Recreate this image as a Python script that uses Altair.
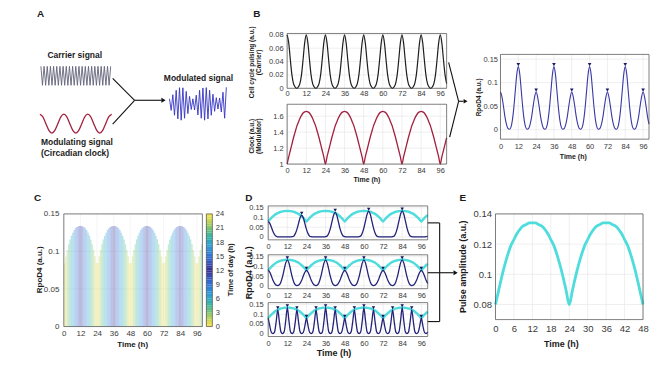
import altair as alt
import pandas as pd

FONT = "Liberation Sans"
W, H = 644, 355
INK = "#1a1a1a"
TICKC = "#3a3a3a"

# ---------------- data ----------------
hours = list(range(101))

carrier_b = [
    0.080, 0.068, 0.043, 0.020, 0.007, 0.002, 0.000, 0.002, 0.007, 0.020, 0.043, 0.068,
    0.080, 0.068, 0.043, 0.020, 0.007, 0.002, 0.000, 0.002, 0.007, 0.020, 0.043, 0.068,
    0.080, 0.068, 0.043, 0.020, 0.007, 0.002, 0.000, 0.002, 0.007, 0.020, 0.043, 0.068,
    0.080, 0.068, 0.043, 0.020, 0.007, 0.002, 0.000, 0.002, 0.007, 0.020, 0.043, 0.068,
    0.080, 0.068, 0.043, 0.020, 0.007, 0.002, 0.000, 0.002, 0.007, 0.020, 0.043, 0.068,
    0.080, 0.068, 0.043, 0.020, 0.007, 0.002, 0.000, 0.002, 0.007, 0.020, 0.043, 0.068,
    0.080, 0.068, 0.043, 0.020, 0.007, 0.002, 0.000, 0.002, 0.007, 0.020, 0.043, 0.068,
    0.080, 0.068, 0.043, 0.020, 0.007, 0.002, 0.000, 0.002, 0.007, 0.020, 0.043, 0.068,
    0.080, 0.068, 0.043, 0.020, 0.007,
]

clock_b = [
    1.00, 1.09, 1.17, 1.25, 1.33, 1.40, 1.47, 1.52, 1.57, 1.61, 1.64, 1.655, 1.66,
    1.655, 1.64, 1.61, 1.57, 1.52, 1.47, 1.40, 1.33, 1.25, 1.17, 1.09, 1.00,
    1.09, 1.17, 1.25, 1.33, 1.40, 1.47, 1.52, 1.57, 1.61, 1.64, 1.655, 1.66,
    1.655, 1.64, 1.61, 1.57, 1.52, 1.47, 1.40, 1.33, 1.25, 1.17, 1.09, 1.00,
    1.09, 1.17, 1.25, 1.33, 1.40, 1.47, 1.52, 1.57, 1.61, 1.64, 1.655, 1.66,
    1.655, 1.64, 1.61, 1.57, 1.52, 1.47, 1.40, 1.33, 1.25, 1.17, 1.09, 1.00,
    1.09, 1.17, 1.25, 1.33, 1.40, 1.47, 1.52, 1.57, 1.61, 1.64, 1.655, 1.66,
    1.655, 1.64, 1.61, 1.57, 1.52, 1.47, 1.40, 1.33, 1.25, 1.17, 1.09, 1.00,
    1.09, 1.17, 1.25, 1.33,
]

rpod4 = [
    0.080, 0.070, 0.050, 0.028, 0.012, 0.003, 0.001, 0.005, 0.020, 0.047, 0.083, 0.118, 0.134,
    0.118, 0.083, 0.047, 0.020, 0.005, 0.001, 0.003, 0.012, 0.028, 0.050, 0.070, 0.080,
    0.070, 0.050, 0.028, 0.012, 0.003, 0.001, 0.005, 0.020, 0.047, 0.083, 0.118, 0.134,
    0.118, 0.083, 0.047, 0.020, 0.005, 0.001, 0.003, 0.012, 0.028, 0.050, 0.070, 0.080,
    0.070, 0.050, 0.028, 0.012, 0.003, 0.001, 0.005, 0.020, 0.047, 0.083, 0.118, 0.134,
    0.118, 0.083, 0.047, 0.020, 0.005, 0.001, 0.003, 0.012, 0.028, 0.050, 0.070, 0.080,
    0.070, 0.050, 0.028, 0.012, 0.003, 0.001, 0.005, 0.020, 0.047, 0.083, 0.118, 0.134,
    0.118, 0.083, 0.047, 0.020, 0.005, 0.001, 0.003, 0.012, 0.028, 0.050, 0.070, 0.080,
    0.070, 0.050, 0.028, 0.012,
]
rpod4_peak_t = [12, 24, 36, 48, 60, 72, 84, 96]
rpod4_peak_v = [0.134, 0.080, 0.134, 0.080, 0.134, 0.080, 0.134, 0.080]

envelope = [
    0.080, 0.089, 0.098, 0.106, 0.113, 0.119, 0.123, 0.127, 0.130, 0.132, 0.133, 0.134, 0.134,
    0.134, 0.133, 0.132, 0.130, 0.127, 0.123, 0.119, 0.113, 0.106, 0.098, 0.089, 0.080,
    0.089, 0.098, 0.106, 0.113, 0.119, 0.123, 0.127, 0.130, 0.132, 0.133, 0.134, 0.134,
    0.134, 0.133, 0.132, 0.130, 0.127, 0.123, 0.119, 0.113, 0.106, 0.098, 0.089, 0.080,
    0.089, 0.098, 0.106, 0.113, 0.119, 0.123, 0.127, 0.130, 0.132, 0.133, 0.134, 0.134,
    0.134, 0.133, 0.132, 0.130, 0.127, 0.123, 0.119, 0.113, 0.106, 0.098, 0.089, 0.080,
    0.089, 0.098, 0.106, 0.113, 0.119, 0.123, 0.127, 0.130, 0.132, 0.133, 0.134, 0.134,
    0.134, 0.133, 0.132, 0.130, 0.127, 0.123, 0.119, 0.113, 0.106, 0.098, 0.089, 0.080,
    0.089, 0.098, 0.106, 0.113,
]

d1_pulse = [
    0.080, 0.070, 0.050, 0.028, 0.012, 0.003, 0.000,
    0, 0, 0, 0, 0, 0, 0, 0,
    0.001, 0.004, 0.017, 0.039, 0.069, 0.099, 0.112, 0.099, 0.069, 0.039, 0.017, 0.004, 0.001,
    0, 0, 0, 0, 0, 0, 0, 0,
    0.001, 0.005, 0.019, 0.044, 0.079, 0.112, 0.127, 0.112, 0.079, 0.044, 0.019, 0.005, 0.001,
    0, 0, 0, 0, 0, 0, 0, 0,
    0.001, 0.005, 0.020, 0.047, 0.082, 0.117, 0.133, 0.117, 0.082, 0.047, 0.020, 0.005, 0.001,
    0, 0, 0, 0, 0, 0, 0, 0,
    0.001, 0.005, 0.020, 0.047, 0.083, 0.118, 0.134, 0.118, 0.083, 0.047, 0.020, 0.005, 0.001,
    0, 0, 0, 0, 0, 0, 0, 0,
    0.001, 0.005,
]
d1_peak_t = [21, 42, 63, 84]
d1_peak_v = [0.112, 0.127, 0.133, 0.134]

d3_pulse = [
    0.080, 0.040, 0.006, 0.000, 0.009, 0.062, 0.123, 0.062, 0.009, 0.000, 0.009, 0.067,
    0.134, 0.067, 0.009, 0.000, 0.009, 0.062, 0.123, 0.062, 0.009, 0.000, 0.006, 0.040,
    0.080, 0.040, 0.006, 0.000, 0.009, 0.062, 0.123, 0.062, 0.009, 0.000, 0.009, 0.067,
    0.134, 0.067, 0.009, 0.000, 0.009, 0.062, 0.123, 0.062, 0.009, 0.000, 0.006, 0.040,
    0.080, 0.040, 0.006, 0.000, 0.009, 0.062, 0.123, 0.062, 0.009, 0.000, 0.009, 0.067,
    0.134, 0.067, 0.009, 0.000, 0.009, 0.062, 0.123, 0.062, 0.009, 0.000, 0.006, 0.040,
    0.080, 0.040, 0.006, 0.000, 0.009, 0.062, 0.123, 0.062, 0.009, 0.000, 0.009, 0.067,
    0.134, 0.067, 0.009, 0.000, 0.009, 0.062, 0.123, 0.062, 0.009, 0.000, 0.006, 0.040,
    0.080, 0.040, 0.006, 0.000, 0.009,
]
d3_peak_t = [6, 12, 18, 24, 30, 36, 42, 48, 54, 60, 66, 72, 78, 84, 90, 96]
d3_peak_v = [0.123, 0.134, 0.123, 0.080, 0.123, 0.134, 0.123, 0.080,
             0.123, 0.134, 0.123, 0.080, 0.123, 0.134, 0.123, 0.080]

# schematic signals of panel A
carrier_a = [1, -1, 1, -1, 1, -1, 1, -1, 1, -1, 1, -1, 1, -1, 1, -1, 1, -1, 1, -1, 1, -1,
             1, -1, 1, -1, 1, -1, 1, -1, 1, -1, 1, -1, 1, -1, 1, -1, 1, -1, 1, -1, 1, -1, 1]
modulating_a = [1, 0.71, 0, -0.71, -1, -0.71, 0, 0.71, 1, 0.71, 0, -0.71, -1, -0.71, 0, 0.71,
                1, 0.71, 0, -0.71, -1, -0.71, 0, 0.71, 1]
modulated_a = [0.30, -0.40, 0.55, -0.70, 0.82, -0.92, 0.98, -1.00, 0.97, -0.88, 0.75, -0.60,
               0.45, -0.35, 0.30, -0.38, 0.52, -0.68, 0.82, -0.88, 0.96, -1.00, 0.98, -0.92,
               0.82, -0.70, 0.58, -0.46, 0.37, -0.32, 0.35, -0.50, 0.70, -0.88, 1.00]

time_ticks = [0, 12, 24, 36, 48, 60, 72, 84, 96]
time_ticks_e = [0, 6, 12, 18, 24, 30, 36, 42, 48]
carrier_ticks = [0, 0.02, 0.04, 0.06, 0.08]
clock_ticks = [1, 1.2, 1.4, 1.6]
rpod_ticks = [0, 0.05, 0.1, 0.15]
amp_ticks = [0.08, 0.1, 0.12, 0.14]
tod_ticks = [0, 3, 6, 9, 12, 15, 18, 21, 24]

tod_stops = [0, 1.5, 3, 5, 7, 9.5, 12, 14.5, 17, 19, 21, 22.5, 24]
tod_colors = ["#f9e24c", "#c8d450", "#7cc46e", "#2db4aa", "#2a9ad8", "#3168d6", "#3a2b8e",
              "#3168d6", "#2a9ad8", "#2db4aa", "#7cc46e", "#c8d450", "#f9e24c"]


# ---------------- helpers ----------------
class Panel:
    def __init__(self, xdom, xpx, ydom, ypx, xticks=None, yticks=None, fs=7.5,
                 xpad=2, ypad=4, yorient="left"):
        self.xdom, self.xpx, self.ydom, self.ypx = xdom, xpx, ydom, ypx
        self.xticks, self.yticks = xticks, yticks
        self.fs, self.xpad, self.ypad, self.yorient = fs, xpad, ypad, yorient
        self.xs = alt.Scale(domain=xdom, range=xpx, nice=False, zero=False)
        self.ys = alt.Scale(domain=ydom, range=ypx, nice=False, zero=False)

    def _axis(self, orient, offset, values, pad):
        return alt.Axis(orient=orient, offset=offset, values=values,
                        labelExpr="toString(datum.value)", title=None,
                        grid=False, ticks=False, domain=False, labelFont=FONT,
                        labelFontSize=self.fs, labelColor=TICKC, labelPadding=pad,
                        labelOverlap=False, labelFlush=False)

    def X(self, f):
        ax = None
        if self.xticks is not None:
            ax = self._axis("bottom", self.ypx[0] - H, self.xticks, self.xpad)
        return alt.X(f, type="quantitative", scale=self.xs, axis=ax)

    def Y(self, f):
        ax = None
        if self.yticks is not None:
            off = -self.xpx[0] if self.yorient == "left" else self.xpx[1] - W
            ax = self._axis(self.yorient, off, self.yticks, self.ypad)
        return alt.Y(f, type="quantitative", scale=self.ys, axis=ax)


def grid(p, color="#e4e4e4"):
    gx = pd.DataFrame({"v": p.xticks, "a": p.ydom[0], "b": p.ydom[1]})
    gy = pd.DataFrame({"v": p.yticks, "a": p.xdom[0], "b": p.xdom[1]})
    return [
        alt.Chart(gx).mark_rule(color=color, strokeWidth=0.6).encode(x=p.X("v"), y=p.Y("a"), y2="b"),
        alt.Chart(gy).mark_rule(color=color, strokeWidth=0.6).encode(y=p.Y("v"), x=p.X("a"), x2="b"),
    ]


def box(p):
    fd = pd.DataFrame({"x0": [p.xdom[0]], "x1": [p.xdom[1]], "y0": [p.ydom[0]], "y1": [p.ydom[1]]})
    return alt.Chart(fd).mark_rect(filled=False, color="#4a4a4a", strokeWidth=0.7).encode(
        x=p.X("x0"), x2="x1", y=p.Y("y0"), y2="y1")


def line(p, xs, ys, color, width, interp="monotone"):
    df = pd.DataFrame({"t": xs, "v": ys})
    return alt.Chart(df).mark_line(color=color, strokeWidth=width, interpolate=interp).encode(
        x=p.X("t"), y=p.Y("v"))


def peaks(p, ts, vs, color, size=13):
    df = pd.DataFrame({"t": ts, "v": vs})
    return alt.Chart(df).mark_point(shape="triangle-down", filled=True, size=size, color=color,
                                    opacity=1, yOffset=-2).encode(x=p.X("t"), y=p.Y("v"))


dummy = pd.DataFrame({"k": [0]})


def text(s, x, y, size, bold=True, angle=0, align="center", baseline="middle", color=INK):
    return alt.Chart(dummy).mark_text(text=s, font=FONT, fontSize=size,
                                      fontWeight="bold" if bold else "normal", angle=angle,
                                      align=align, baseline=baseline, color=color).encode(
        x=alt.value(x), y=alt.value(y))


def seg(x1, y1, x2, y2, w=1.1):
    return alt.Chart(dummy).mark_rule(color="#111111", strokeWidth=w).encode(
        x=alt.value(x1), y=alt.value(y1), x2=alt.value(x2), y2=alt.value(y2))


def head(x, y, size=24):
    return alt.Chart(dummy).mark_point(shape="triangle-right", filled=True, size=size,
                                       color="#111111", opacity=1).encode(x=alt.value(x), y=alt.value(y))


tod_scale = alt.Scale(domain=tod_stops, range=tod_colors, interpolate="rgb")
layers = []

# ---------------- panel A ----------------
pa_car = Panel([0, 44], [33, 103], [-1, 1], [77, 58])
pa_mod = Panel([0, 24], [32, 104], [-1, 1], [125, 106])
pa_out = Panel([0, 34], [162, 219], [-1, 1], [112, 79])
layers += [
    line(pa_car, list(range(len(carrier_a))), carrier_a, "#62627a", 0.9, "linear"),
    line(pa_mod, list(range(len(modulating_a))), modulating_a, "#a3203f", 1.3, "monotone"),
    line(pa_out, list(range(len(modulated_a))), modulated_a, "#3434c4", 0.9, "linear"),
    text("A", 29, 0, 10, baseline="top", align="left"),
    text("Carrier signal", 67, 47, 8.5),
    text("Modulated signal", 191, 70, 8.5),
    text("Modulating signal", 33, 134, 8.5, align="left"),
    text("(Circadian clock)", 33, 145, 8.5, align="left"),
    seg(105, 70, 127, 92), seg(105, 116, 127, 92), seg(127, 92, 154, 92), head(156, 92),
]

# ---------------- panel B ----------------
pbt = Panel([0, 100], [280, 440], [0, 0.082], [80, 25], time_ticks, carrier_ticks, 7.5, 1, 4)
pbb = Panel([0, 100], [280, 440], [1, 1.75], [156, 96], time_ticks, clock_ticks, 7.5, 2, 4)
pbr = Panel([0, 100], [494, 643], [-0.02, 0.16], [131, 46], time_ticks, rpod_ticks, 7.5, 3, 3)
layers += [
    alt.layer(*grid(pbt), line(pbt, hours, carrier_b, "#1e1e1e", 1.2), box(pbt)),
    alt.layer(*grid(pbb), line(pbb, hours, clock_b, "#a3203f", 1.3), box(pbb)),
    alt.layer(*grid(pbr), line(pbr, hours, rpod4, "#3838a6", 1.1),
              peaks(pbr, rpod4_peak_t, rpod4_peak_v, "#1a1a66"), box(pbr)),
    text("B", 246, 0, 10, baseline="top", align="left"),
    text("Cell cycle pulsing (a.u.)", 245, 54, 6.5, angle=270),
    text("(Carrier)", 252, 54, 6.5, angle=270),
    text("Clock (a.u.)", 245, 128, 6.5, angle=270),
    text("(Modulator)", 252, 128, 6.5, angle=270),
    text("Time (h)", 360, 172, 7),
    text("RpoD4 (a.u.)", 472, 89, 6.5, angle=270),
    text("Time (h)", 567, 149, 7),
    seg(442, 54, 452, 93), seg(452, 93, 443, 129), seg(452, 93, 457, 93), head(459, 93, 20),
]

# ---------------- panel C ----------------
pc = Panel([0, 100], [56, 195], [0, 0.15], [319, 206], time_ticks, rpod_ticks, 8, 3, 5)
c_df = pd.DataFrame({
    "t0": hours[:-1],
    "t1": hours[1:],
    "base": 0.0,
    "top": [(envelope[i] + envelope[i + 1]) / 2 for i in range(len(hours) - 1)],
    "tod": [(h + 0.5) % 24 for h in hours[:-1]],
})
c_rects = alt.Chart(c_df).mark_rect(opacity=0.34).encode(
    x=pc.X("t0"), x2="t1", y=pc.Y("base"), y2="top",
    color=alt.Color("tod", type="quantitative", scale=tod_scale, legend=None))
pcb = Panel([0, 1], [199, 205], [0, 24], [319, 206], None, tod_ticks, 7.5, 2, 3, "right")
cb_lv = [i * 0.5 for i in range(48)]
cb_df = pd.DataFrame({"a": cb_lv, "b": [v + 0.5 for v in cb_lv], "m": [v + 0.25 for v in cb_lv],
                      "x0": 0.0, "x1": 1.0})
cb_rects = alt.Chart(cb_df).mark_rect().encode(
    x=pcb.X("x0"), x2="x1", y=pcb.Y("a"), y2="b",
    color=alt.Color("m", type="quantitative", scale=tod_scale, legend=None))
layers += [
    alt.layer(*grid(pc, "#eeeeee"), c_rects, box(pc)),
    alt.layer(cb_rects, box(pcb)),
    text("C", 26, 190, 10, align="left"),
    text("RpoD4 (a.u.)", 32, 262, 8, angle=270),
    text("Time (h)", 125, 337, 8),
    text("Time of day (h)", 224, 262, 7.5, angle=270),
]

# ---------------- panel D ----------------
CYAN = "#4fdcdc"
NAVY = "#23237a"
d_specs = [([232, 198], d1_pulse, d1_peak_t, d1_peak_v),
           ([281, 247], rpod4, rpod4_peak_t, rpod4_peak_v),
           ([329, 295], d3_pulse, d3_peak_t, d3_peak_v)]
for ypx, series, pt, pv in d_specs:
    pd_ = Panel([0, 100], [261, 421], [-0.015, 0.16], ypx, time_ticks, rpod_ticks, 7.5, 3, 5)
    layers.append(alt.layer(*grid(pd_), line(pd_, hours, envelope, CYAN, 2.4),
                            line(pd_, hours, series, NAVY, 1.3),
                            peaks(pd_, pt, pv, "#14145a", 12), box(pd_)))
layers += [
    text("D", 238, 190, 10, align="left"),
    text("RpoD4 (a.u.)", 242, 265, 9, angle=270),
    text("Time (h)", 327, 346, 9),
    seg(421, 215, 433, 215), seg(421, 265, 433, 265), seg(421, 314, 433, 314),
    seg(433, 215, 433, 314), seg(433, 265, 447, 265), head(449, 265, 24),
]

# ---------------- panel E ----------------
pe = Panel([0, 48], [489, 637], [0.07, 0.14], [312, 206], time_ticks_e, amp_ticks, 9.5, 4, 4)
layers += [
    alt.layer(*grid(pe), line(pe, hours[:49], envelope[:49], CYAN, 2.8), box(pe)),
    text("E", 453, 190, 10, align="left"),
    text("Pulse amplitude (a.u.)", 456, 259, 9, angle=270),
    text("Time (h)", 555, 336, 9),
]

chart = alt.layer(*layers).resolve_scale(
    x="independent", y="independent", color="independent"
).properties(width=W, height=H, padding=0, background="white").configure_view(stroke="transparent")

chart.save("out.html", embed_options={"renderer": "svg", "actions": False})
